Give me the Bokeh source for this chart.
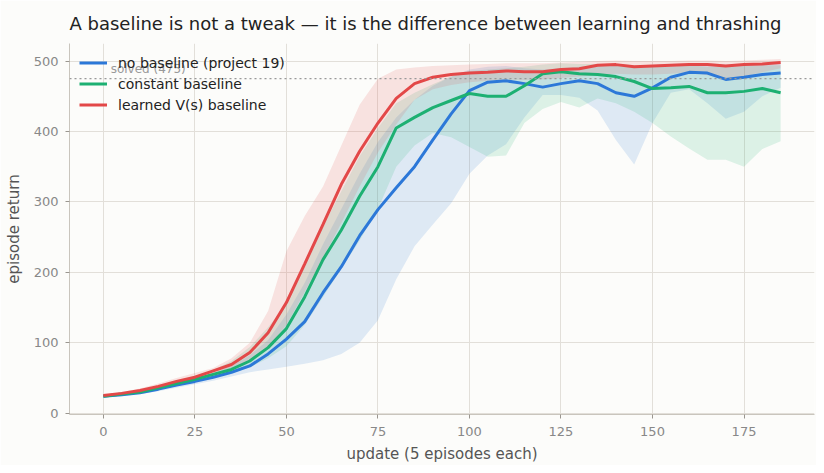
from bokeh.plotting import figure
from bokeh.models import Range1d, Span, FixedTicker, Label
from bokeh.embed import file_html
from bokeh.resources import INLINE

# updates, sampled every 5 (5 episodes each)
updates = list(range(0, 186, 5))

# no baseline (project 19)
nobase_mean = [24, 26, 29, 34, 40, 45, 51, 58, 67, 84, 105, 130, 171, 208, 252, 289, 320, 350,
               388, 425, 458, 470, 472, 468, 463, 468, 472, 468, 455, 450, 462, 477, 484, 483,
               474, 477, 481, 483]
nobase_lo = [22, 24, 27, 31, 36, 41, 46, 52, 58, 62, 66, 70, 75, 84, 100, 132, 190, 237,
             268, 298, 340, 366, 382, 420, 452, 452, 448, 430, 388, 353, 412, 455, 460, 440,
             418, 428, 450, 462]
nobase_hi = [26, 28, 31, 37, 44, 50, 57, 67, 82, 104, 140, 185, 240, 290, 340, 385, 420, 445,
             465, 478, 488, 492, 493, 490, 488, 490, 492, 494, 494, 493, 494, 496, 497, 497,
             495, 496, 497, 498]

# constant baseline
const_mean = [24, 27, 30, 36, 42, 48, 55, 62, 74, 93, 120, 165, 218, 260, 308, 350, 405, 420,
              434, 444, 454, 450, 450, 465, 482, 485, 482, 481, 478, 471, 461, 462, 464, 455,
              455, 457, 461, 455]
const_lo = [23, 25, 28, 33, 38, 44, 50, 57, 65, 78, 95, 125, 165, 205, 245, 290, 350, 380,
            398, 392, 378, 364, 366, 412, 432, 442, 434, 447, 440, 428, 412, 393, 376, 360,
            360, 350, 375, 386]
const_hi = [25, 29, 32, 39, 46, 53, 61, 74, 94, 122, 155, 210, 265, 315, 365, 405, 440, 455,
            467, 478, 486, 488, 490, 492, 495, 497, 496, 496, 496, 494, 492, 492, 494, 492,
            492, 493, 494, 494]

# learned V(s) baseline
learned_mean = [25, 28, 32, 38, 45, 51, 60, 69, 86, 114, 157, 212, 268, 325, 372, 412, 447, 468,
                477, 481, 483, 484, 486, 485, 485, 488, 489, 494, 495, 492, 493, 494, 495, 495,
                493, 495, 496, 498]
learned_lo = [24, 27, 30, 35, 41, 47, 54, 62, 74, 92, 125, 172, 220, 270, 322, 370, 410, 445,
              460, 466, 470, 472, 474, 473, 474, 476, 478, 480, 482, 481, 481, 482, 484, 480,
              475, 478, 484, 490]
learned_hi = [26, 30, 35, 42, 50, 57, 64, 78, 100, 145, 230, 280, 322, 380, 438, 475, 488, 491,
              493, 494, 495, 496, 497, 497, 497, 498, 499, 500, 501, 500, 500, 500, 501, 501,
              500, 501, 502, 503]

SOLVED = 475
x_ticks = [0, 25, 50, 75, 100, 125, 150, 175]
y_ticks = [0, 100, 200, 300, 400, 500]

BG = "#fcfcfa"
FONT = "DejaVu Sans"

p = figure(width=816, height=465, output_backend="svg", toolbar_location=None,
           x_range=Range1d(-9.25, 194.25), y_range=Range1d(-2, 525),
           title="A baseline is not a tweak \u2014 it is the difference between learning and thrashing",
           x_axis_label="update (5 episodes each)", y_axis_label="episode return",
           min_border_left=69, min_border_right=2, min_border_top=43, min_border_bottom=50)
p.background_fill_color = BG
p.border_fill_color = BG
p.outline_line_color = None

p.title.text_font = FONT
p.title.text_font_size = "18px"
p.title.text_font_style = "normal"
p.title.text_color = "#222222"
p.title.align = "left"
p.title.standoff = 20

for ax in (p.xaxis, p.yaxis):
    ax.axis_label_text_font = FONT
    ax.axis_label_text_font_size = "15px"
    ax.axis_label_text_font_style = "normal"
    ax.axis_label_text_color = "#555555"
    ax.major_label_text_font = FONT
    ax.major_label_text_font_size = "13px"
    ax.major_label_text_color = "#888888"
    ax.axis_line_color = "#c9c5bd"
    ax.major_tick_line_color = "#9a968f"
    ax.major_tick_out = 4
    ax.major_tick_in = 0
    ax.minor_tick_line_color = None
p.xaxis.major_label_standoff = 8
p.yaxis.major_label_standoff = 7
p.xaxis.axis_label_standoff = 6
p.yaxis.axis_label_standoff = 8
p.xaxis.ticker = FixedTicker(ticks=x_ticks)
p.yaxis.ticker = FixedTicker(ticks=y_ticks)

p.grid.grid_line_color = "#e2dfd9"
p.grid.grid_line_width = 1
p.xgrid.ticker = FixedTicker(ticks=x_ticks)
p.ygrid.ticker = FixedTicker(ticks=y_ticks)

series = [
    ("no baseline (project 19)", "#2c78d8", nobase_mean, nobase_lo, nobase_hi),
    ("constant baseline", "#1db072", const_mean, const_lo, const_hi),
    ("learned V(s) baseline", "#e34848", learned_mean, learned_lo, learned_hi),
]

for name, color, mean, lo, hi in series:
    p.varea(x=updates, y1=lo, y2=hi, fill_color=color, fill_alpha=0.14)

p.add_layout(Span(location=SOLVED, dimension="width", line_color="#999999",
                  line_dash="2 3", line_width=1.3))
p.add_layout(Label(x=2, y=SOLVED, text="solved (%d)" % SOLVED, text_font=FONT,
                   text_font_size="12px", text_color="#999999", y_offset=3,
                   text_baseline="bottom"))

for name, color, mean, lo, hi in series:
    p.line(updates, mean, line_color=color, line_width=3, legend_label=name)

p.legend.location = "top_left"
p.legend.background_fill_alpha = 0
p.legend.border_line_alpha = 0
p.legend.margin = 0
p.legend.padding = 10
p.legend.spacing = 2
p.legend.glyph_width = 28
p.legend.glyph_height = 19
p.legend.label_height = 19
p.legend.label_standoff = 11
p.legend.label_text_font = FONT
p.legend.label_text_font_size = "14px"
p.legend.label_text_color = "#222222"

open("out.html", "w").write(file_html(p, INLINE))
